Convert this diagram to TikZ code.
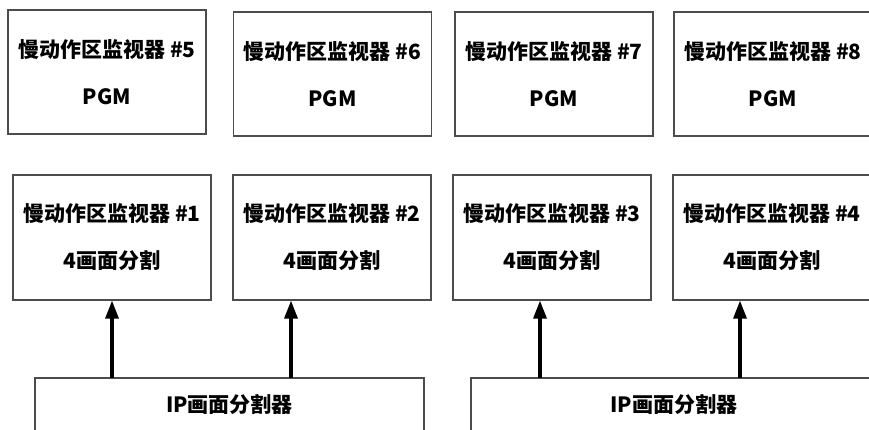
\documentclass[tikz,border=0pt]{standalone}
\usepackage{fontspec}
\setmainfont{Noto Sans CJK SC}
\usetikzlibrary{arrows.meta}
\begin{document}
\begin{tikzpicture}[x=1pt,y=-1pt,
  box/.style={draw=black!70,line width=1.2pt,fill=white,minimum width=198pt,minimum height=124pt,inner sep=0pt,align=center,font=\bfseries\fontsize{21}{47}\selectfont},
  sbox/.style={draw=black!70,line width=1.2pt,fill=white,minimum height=54pt,inner sep=0pt,font=\bfseries\fontsize{21}{24}\selectfont},
  arr/.style={line width=3.2pt,-{Triangle[length=18pt,width=13pt]}}]
\useasboundingbox (0,0) rectangle (869,430);
\clip (0,0) rectangle (869,430);
\fill[white] (0,0) rectangle (869,430);
% top row
\node[box] (m5) at (107,72) {慢动作区监视器 \#5\\PGM};
\node[box] (m6) at (332.5,74) {慢动作区监视器 \#6\\PGM};
\node[box] (m7) at (554,74) {慢动作区监视器 \#7\\PGM};
\node[box] (m8) at (773,74) {慢动作区监视器 \#8\\PGM};
% middle row
\node[box,minimum height=125pt] (m1) at (112,237.5) {慢动作区监视器 \#1\\4画面分割};
\node[box,minimum height=125pt] (m2) at (332,237.5) {慢动作区监视器 \#2\\4画面分割};
\node[box,minimum height=125pt] (m3) at (552,237.5) {慢动作区监视器 \#3\\4画面分割};
\node[box,minimum height=125pt] (m4) at (772,237.5) {慢动作区监视器 \#4\\4画面分割};
% bottom
\node[sbox,minimum width=389pt] (s1) at (229.5,405) {IP画面分割器};
\node[sbox,minimum width=406pt] (s2) at (674,405) {IP画面分割器};
% arrows
\coordinate (a1) at (112,378);
\coordinate (a2) at (291,378);
\coordinate (a3) at (540,378);
\coordinate (a4) at (740,378);
\draw[arr] (a1) -- (a1 |- m1.south);
\draw[arr] (a2) -- (a2 |- m2.south);
\draw[arr] (a3) -- (a3 |- m3.south);
\draw[arr] (a4) -- (a4 |- m4.south);
\end{tikzpicture}
\end{document}
